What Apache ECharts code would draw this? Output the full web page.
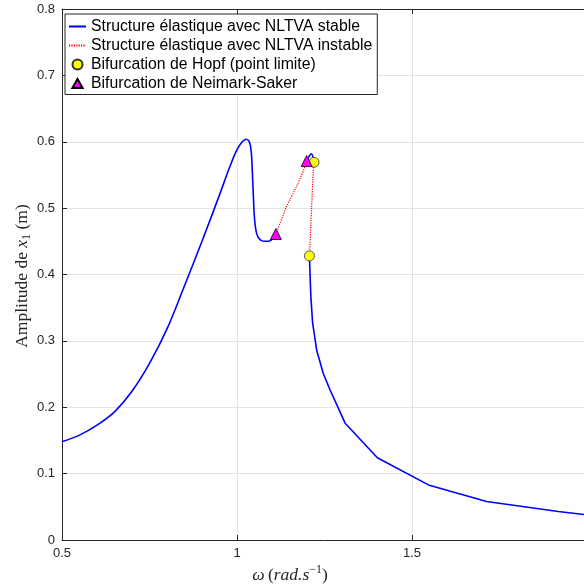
<!DOCTYPE html>
<html>
<head>
<meta charset="utf-8">
<script src="https://cdn.jsdelivr.net/npm/echarts@6/dist/echarts.min.js"></script>
<style>
  html, body { margin: 0; padding: 0; background: #fff; }
  #chart { width: 584px; height: 585px; }
</style>
</head>
<body>
<div id="chart"></div>
<script>
// Frequency response of the primary structure with a nonlinear tuned vibration absorber
const stableRise = [
  [0.50, 0.148], [0.55, 0.158], [0.60, 0.173], [0.65, 0.193], [0.70, 0.224],
  [0.75, 0.266], [0.80, 0.318], [0.85, 0.383], [0.90, 0.450], [0.95, 0.520],
  [0.98, 0.563], [1.00, 0.588], [1.015, 0.600], [1.027, 0.604]
];
const stableDrop = [
  [1.027, 0.604], [1.033, 0.602], [1.038, 0.595], [1.041, 0.583], [1.043, 0.565],
  [1.045, 0.540], [1.047, 0.515], [1.049, 0.492], [1.052, 0.474], [1.056, 0.462],
  [1.062, 0.455], [1.070, 0.451], [1.080, 0.450], [1.092, 0.450], [1.102, 0.454],
  [1.111, 0.461]
];
const stableBump = [
  [1.199, 0.571], [1.206, 0.578], [1.212, 0.582], [1.216, 0.579], [1.220, 0.569]
];
const stableRight = [
  [1.207, 0.428], [1.209, 0.395], [1.211, 0.367], [1.216, 0.327], [1.228, 0.285],
  [1.247, 0.250], [1.266, 0.226], [1.309, 0.176], [1.401, 0.124], [1.547, 0.083],
  [1.713, 0.058], [1.918, 0.043], [2.000, 0.038]
];
const unstableUpper = [
  [1.111, 0.461], [1.125, 0.480], [1.142, 0.503], [1.160, 0.522], [1.175, 0.538],
  [1.190, 0.557], [1.199, 0.571]
];
const unstableVertical = [
  [1.219, 0.569], [1.207, 0.428]
];
const hopfPoints = [[1.220, 0.569], [1.207, 0.428]];
const neimarkPoints = [[1.111, 0.461], [1.199, 0.571]];

const seriesNames = [
  'Structure élastique avec NLTVA stable',
  'Structure élastique avec NLTVA instable',
  'Bifurcation de Hopf (point limite)',
  'Bifurcation de Neimark-Saker'
];

const axisColor = '#262626';
const gridColor = '#e3e3e3';
const tickFont = { fontFamily: 'Liberation Sans, Arial, sans-serif', fontSize: 13, color: axisColor };
// triangle legend glyph padded to the icon box so it keeps its proportions
const triangleIcon = 'path://M0,10L0,10M17,0L17,0M8.5,0.6L13.6,9.6L3.4,9.6Z';
const serif = 'Liberation Serif, serif';
const titleSize = 17.5;

function stableLine(data, smooth) {
  return {
    name: seriesNames[0], type: 'line', data: data, symbol: 'none',
    smooth: smooth || false,
    lineStyle: { color: '#0000ff', width: 1.6 }, itemStyle: { color: '#0000ff' },
    animation: false, z: 2
  };
}
function unstableLine(data) {
  return {
    name: seriesNames[1], type: 'line', data: data, symbol: 'none',
    lineStyle: { color: '#ff0000', width: 1.2, type: [1.2, 1.2] }, itemStyle: { color: '#ff0000' },
    animation: false, z: 3
  };
}

const chart = echarts.init(document.getElementById('chart'), null, { renderer: 'canvas' });
chart.setOption({
  backgroundColor: '#ffffff',
  animation: false,
  grid: { left: 62, top: 9, width: 525, height: 531, containLabel: false, outerBoundsMode: 'none' },
  legend: {
    left: 65, top: 14, orient: 'vertical',
    data: [
      { name: seriesNames[0], itemStyle: { opacity: 0 } },
      { name: seriesNames[1], itemStyle: { opacity: 0 } },
      { name: seriesNames[2] },
      { name: seriesNames[3], icon: triangleIcon }
    ],
    itemWidth: 17, itemHeight: 10, itemGap: 3,
    padding: [4.5, 5, 3, 3],
    backgroundColor: '#ffffff', borderColor: axisColor, borderWidth: 1, borderRadius: 0,
    textStyle: { fontFamily: 'Liberation Sans, Arial, sans-serif', fontSize: 15.8, lineHeight: 15, color: '#000' },
    selectedMode: false
  },
  xAxis: [{
    type: 'value', min: 0.5, max: 2, interval: 0.5,
    axisLine: { lineStyle: { color: axisColor, width: 1 } },
    axisTick: { inside: true, length: 5, lineStyle: { color: axisColor } },
    axisLabel: Object.assign({ margin: 7 }, tickFont),
    splitLine: { show: true, lineStyle: { color: gridColor, width: 1 } }
  }, {
    type: 'value', min: 0.5, max: 2, interval: 0.5, position: 'top',
    axisLine: { show: true, lineStyle: { color: axisColor, width: 1 } },
    axisTick: { inside: true, length: 5, lineStyle: { color: axisColor } },
    axisLabel: { show: false }, splitLine: { show: false }
  }],
  yAxis: {
    type: 'value', min: 0, max: 0.8, interval: 0.1,
    axisLine: { show: true, lineStyle: { color: axisColor, width: 1 } },
    axisTick: { show: true, inside: true, length: 5, lineStyle: { color: axisColor } },
    axisLabel: Object.assign({ margin: 7 }, tickFont),
    splitLine: { show: true, lineStyle: { color: gridColor, width: 1 } }
  },
  graphic: [{
    type: 'text', x: 290, y: 575,
    style: {
      text: '{i|ω} {r|(}{i|rad.s}{sup|−1}{r|)}',
      align: 'center', verticalAlign: 'middle',
      rich: {
        i: { fontFamily: serif, fontStyle: 'italic', fontSize: titleSize, lineHeight: 22, verticalAlign: 'middle', fill: axisColor },
        r: { fontFamily: serif, fontSize: titleSize, lineHeight: 22, verticalAlign: 'middle', fill: axisColor },
        sup: { fontFamily: serif, fontSize: 12, lineHeight: 12, verticalAlign: 'top', fill: axisColor }
      }
    }
  }, {
    type: 'text', x: 22, y: 276, rotation: Math.PI / 2,
    style: {
      text: '{r|Amplitude de }{i|x}{sub|1}{r| (m)}',
      align: 'center', verticalAlign: 'middle',
      rich: {
        r: { fontFamily: serif, fontSize: titleSize, lineHeight: 22, verticalAlign: 'middle', fill: axisColor },
        i: { fontFamily: serif, fontStyle: 'italic', fontSize: titleSize, lineHeight: 22, verticalAlign: 'middle', fill: axisColor },
        sub: { fontFamily: serif, fontSize: 12, lineHeight: 12, verticalAlign: 'bottom', fill: axisColor }
      }
    }
  }],
  series: [
    stableLine(stableRise, 0.35),
    stableLine(stableDrop, 0.2),
    stableLine(stableBump, 0.3),
    stableLine(stableRight, false),
    unstableLine(unstableUpper),
    unstableLine(unstableVertical),
    {
      name: seriesNames[2], type: 'scatter', data: hopfPoints,
      symbol: 'circle', symbolSize: 10,
      itemStyle: { color: '#ffff00', borderColor: '#333333', borderWidth: 0.8, opacity: 1 },
      z: 5
    },
    {
      name: seriesNames[3], type: 'scatter', data: neimarkPoints,
      symbol: 'triangle', symbolSize: 11,
      itemStyle: { color: '#ff00ff', borderColor: '#000000', borderWidth: 0.8, opacity: 1 },
      z: 5
    }
  ]
});
</script>
</body>
</html>
